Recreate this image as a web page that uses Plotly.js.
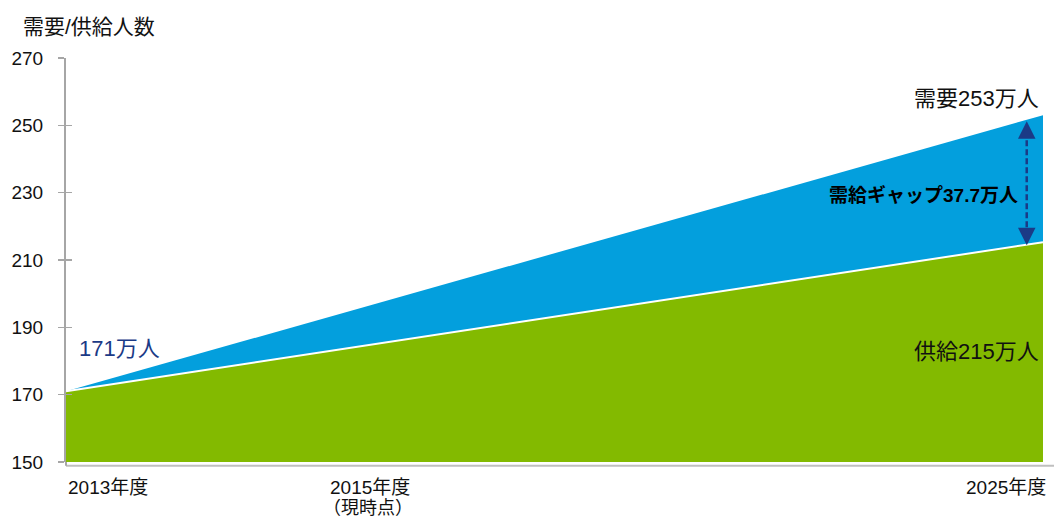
<!DOCTYPE html>
<html>
<head>
<meta charset="utf-8">
<script src="https://cdn.plot.ly/plotly-3.0.1.min.js"></script>
<style>html,body{margin:0;padding:0;background:#fff;}#chart{width:1054px;height:518px;}</style>
</head>
<body>
<div id="chart"></div>
<script>
// Data
const years = [2013, 2025];
const demand = [171, 253];
const supply = [171, 215.3];
const gap = 37.7;
const yTicks = [150, 170, 190, 210, 230, 250, 270];
const xLabelText = ["2013年度", "2015年度", "2025年度"];
const xLabelSub = ["", "（現時点）", ""];
const xLabelPos = [2013, 2016.73, 2025];
const yTitle = "需要/供給人数";
const startLabel = "171万人";
const demandLabel = "需要253万人";
const supplyLabel = "供給215万人";
const gapLabel = "需給ギャップ" + gap + "万人";

const BLUE = "#039fdd";
const GREEN = "#83ba00";
const NAVY = "#1b3a86";
const FONT = "'Liberation Sans', 'Noto Sans CJK JP', sans-serif";

function interp(arr, x) {
  const t = (x - years[0]) / (years[1] - years[0]);
  return arr[0] + (arr[1] - arr[0]) * t;
}
const arrowX = 2024.8;
const arrowTop = interp(demand, arrowX) - 0.4;
const arrowBot = interp(supply, arrowX) - 0.2;

const traces = [
  {x: years, y: supply, type: 'scatter', mode: 'lines', fill: 'tozeroy', fillcolor: GREEN,
   line: {color: '#ffffff', width: 2}, hoverinfo: 'skip', showlegend: false},
  {x: years, y: demand, type: 'scatter', mode: 'lines', fill: 'tonexty', fillcolor: BLUE,
   line: {color: BLUE, width: 0}, hoverinfo: 'skip', showlegend: false},
  {x: [arrowX, arrowX], y: [arrowTop - 3, arrowBot + 3], type: 'scatter', mode: 'lines',
   line: {color: NAVY, width: 2.5, dash: '6px,3px'}, hoverinfo: 'skip', showlegend: false},
  {x: [years[0], years[0]], y: [yTicks[0], yTicks[yTicks.length-1]], yaxis: 'y2', type: 'scatter', mode: 'none',
   hoverinfo: 'skip', showlegend: false}
];

const annotations = [
  {text: yTitle, xref: 'paper', yref: 'paper', x: -0.046, y: 1.077, xanchor: 'left', yanchor: 'middle',
   showarrow: false, font: {family: FONT, size: 21, color: '#111'}},
  {text: demandLabel, x: years[1], y: 258.1, xanchor: 'right', yanchor: 'middle', xshift: -2,
   showarrow: false, font: {family: FONT, size: 22, color: '#111'}},
  {text: supplyLabel, x: years[1], y: 182.7, xanchor: 'right', yanchor: 'middle', xshift: -2,
   showarrow: false, font: {family: FONT, size: 22, color: '#111'}},
  {text: '<b>' + gapLabel + '</b>', x: 2023.53, y: 229.3, xanchor: 'center', yanchor: 'middle',
   showarrow: false, font: {family: FONT, size: 19, color: '#000'}},
  {text: startLabel, x: 2013.14, y: 183.6, xanchor: 'left', yanchor: 'middle',
   showarrow: false, font: {family: FONT, size: 22, color: NAVY}},
  // arrow heads
  {text: '', x: arrowX, y: arrowTop, ax: 0, ay: 16, showarrow: true, arrowhead: 2, arrowsize: 1.4,
   arrowwidth: 2.5, arrowcolor: NAVY, standoff: 0},
  {text: '', x: arrowX, y: arrowBot, ax: 0, ay: -16, showarrow: true, arrowhead: 2, arrowsize: 1.4,
   arrowwidth: 2.5, arrowcolor: NAVY, standoff: 0}
];
xLabelPos.forEach((p, i) => {
  const anchor = i === 0 ? 'left' : (i === xLabelPos.length - 1 ? 'right' : 'center');
  const shift = i === xLabelPos.length - 1 ? 5 : 0;
  annotations.push({text: xLabelText[i], x: p, xref: 'x', yref: 'paper', y: -0.064, yanchor: 'middle',
    xanchor: anchor, xshift: shift, showarrow: false,
    font: {family: FONT, size: 19, color: '#111'}});
  if (xLabelSub[i]) {
    annotations.push({text: xLabelSub[i], x: p, xref: 'x', yref: 'paper', y: -0.114, yanchor: 'middle',
      xanchor: anchor, xshift: shift - 2, showarrow: false,
      font: {family: FONT, size: 18, color: '#111'}});
  }
});

const layout = {
  width: 1054, height: 518,
  margin: {l: 66, r: 11, t: 58, b: 56},
  paper_bgcolor: '#fff', plot_bgcolor: '#fff',
  xaxis: {range: [years[0], years[1]], showgrid: false, zeroline: false, showline: false,
    showticklabels: false, ticks: '', fixedrange: true},
  yaxis: {range: [yTicks[0], yTicks[yTicks.length-1]], tickvals: yTicks, showgrid: false, zeroline: false,
    showline: true, linecolor: '#a6a6a6', linewidth: 2, ticks: 'outside', ticklen: 6, tickwidth: 1.5,
    tickcolor: '#a6a6a6', ticklabelstandoff: 11,
    tickfont: {family: FONT, size: 19, color: '#111'}},
  yaxis2: {range: [yTicks[0], yTicks[yTicks.length-1]], tickvals: yTicks, overlaying: 'y', side: 'left',
    showgrid: false, zeroline: false, showline: false, ticks: 'inside', ticklen: 6, tickwidth: 1.5,
    tickcolor: '#a6a6a6', showticklabels: false},
  shapes: [
    {type: 'line', xref: 'paper', yref: 'paper', x0: 0, x1: 1.012, y0: -0.009, y1: -0.009,
     line: {color: '#bfbfbf', width: 2}},
    {type: 'line', xref: 'paper', yref: 'paper', x0: 0, x1: 0, y0: -0.009, y1: 0,
     line: {color: '#a6a6a6', width: 2}}
  ],
  annotations: annotations,
  showlegend: false
};

Plotly.newPlot('chart', traces, layout, {staticPlot: true, displayModeBar: false});
</script>
</body>
</html>
